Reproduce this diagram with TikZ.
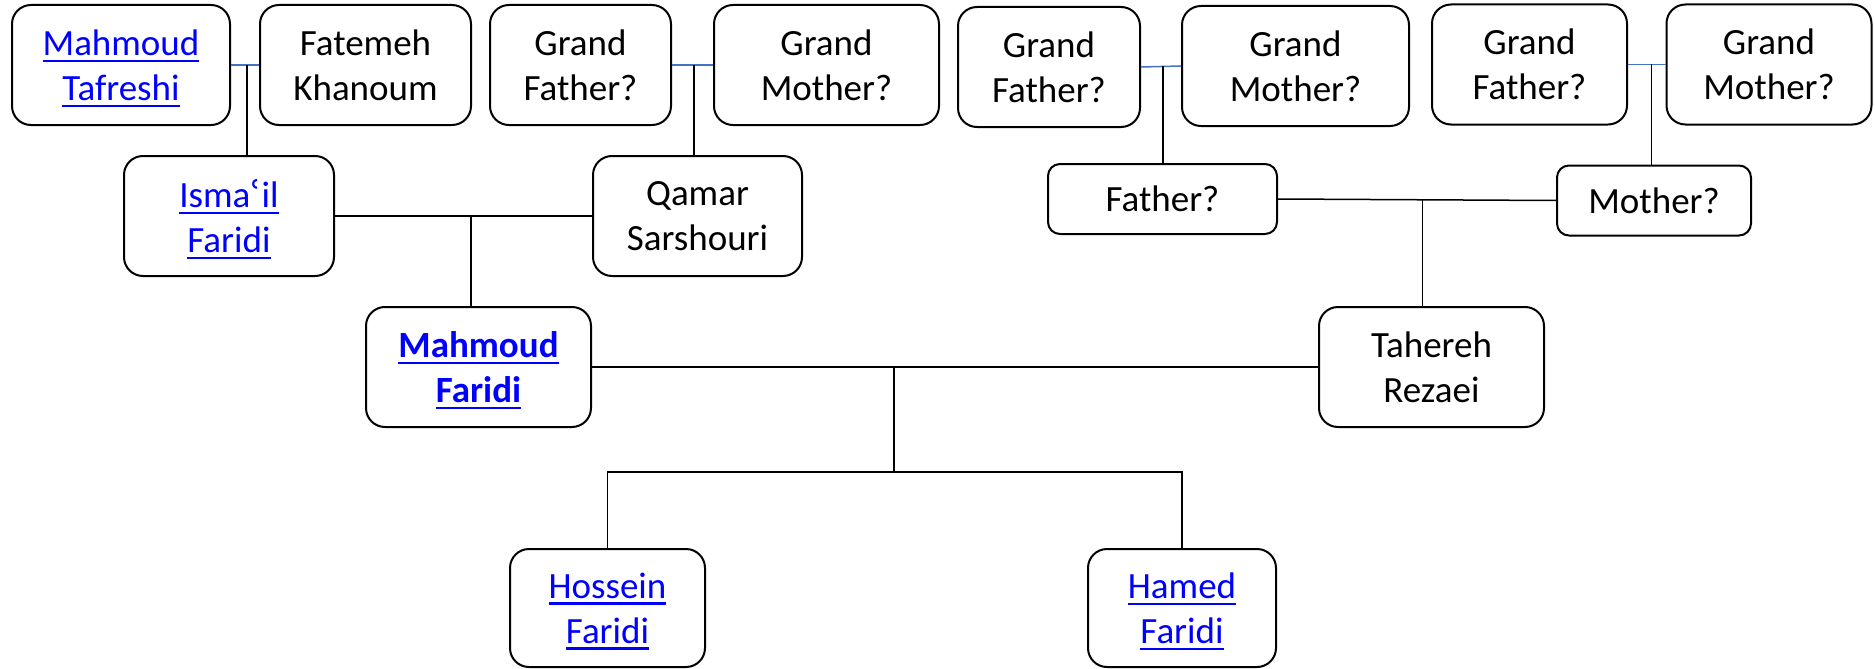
\documentclass[tikz,border=0pt]{standalone}
\usepackage{fontspec}
\setmainfont{Carlito}
\newfontfamily\dejavu{DejaVu Sans}
\usepackage[HTML]{xcolor}
\usepackage{tikz}
\usetikzlibrary{calc}

\definecolor{linkblue}{HTML}{0000FF}
\definecolor{spouseblue}{HTML}{4472C4}
\newsavebox{\lnkbox}
\newcommand{\lnk}[1]{\textcolor{linkblue}{\sbox{\lnkbox}{#1}%
  \rlap{\smash{\rule[-7pt]{\wd\lnkbox}{2.6pt}}}\usebox{\lnkbox}}}

\tikzset{
  person/.style={draw, line width=2pt, rounded corners=19pt, minimum height=120pt,
    align=center, inner sep=0pt, font=\fontsize{37}{45}\selectfont},
  smallperson/.style={person, rounded corners=12pt, minimum height=70pt},
  couple/.style={spouseblue, line width=1.5pt},
  kin/.style={black, line width=1.5pt},
}

\begin{document}
\begin{tikzpicture}[x=1pt, y=-1pt]
\useasboundingbox (0,0) rectangle (1875,669);

% --- Top row: grandparents ---
\node[person, minimum width=218pt] (tafreshi) at (121,65) {\lnk{Mahmoud}\\\lnk{Tafreshi}};
\node[person, minimum width=211pt] (fatemeh) at (365.5,65) {Fatemeh\\Khanoum};
\node[person, minimum width=181pt] (gfA) at (580.5,65) {Grand\\Father?};
\node[person, minimum width=225pt] (gmA) at (826.5,65) {Grand\\Mother?};
\node[person, minimum width=182pt] (gfB) at (1049,67) {Grand\\Father?};
\node[person, minimum width=227pt] (gmB) at (1295.5,66) {Grand\\Mother?};
\node[person, minimum width=195pt] (gfC) at (1529.5,64.5) {Grand\\Father?};
\node[person, minimum width=205pt] (gmC) at (1769,64.5) {Grand\\Mother?};

% --- Parents ---
\node[person, minimum width=210pt] (ismail) at (229,216) {\lnk{Isma{\dejavu ʿ}il}\\\lnk{Faridi}};
\node[person, minimum width=209pt] (qamar) at (697.5,216) {Qamar\\Sarshouri};
\node[smallperson, minimum width=229pt] (father) at (1162.5,199) {Father?};
\node[smallperson, minimum width=194pt] (mother) at (1654,200.5) {Mother?};

% --- Couple ---
\node[person, minimum width=225pt] (mahmoud) at (478.5,367) {\lnk{\textbf{Mahmoud}}\\\lnk{\textbf{Faridi}}};
\node[person, minimum width=225pt] (tahereh) at (1431.5,367) {Tahereh\\Rezaei};

% --- Children ---
\node[person, minimum width=195pt, minimum height=118pt] (hossein) at (607.5,608) {\lnk{Hossein}\\\lnk{Faridi}};
\node[person, minimum width=188pt, minimum height=118pt] (hamed) at (1182,608) {\lnk{Hamed}\\\lnk{Faridi}};

% Marriage lines of the grandparents
\draw[couple] (tafreshi.east) -- (fatemeh.west);
\draw[couple] (gfA.east) -- (gmA.west);
\draw[couple] (gfB.east) -- (gmB.west);
\draw[couple] (gfC.east) -- (gmC.west);

% Descent from the grandparents
\coordinate (jA) at ($(tafreshi.east)!0.57!(fatemeh.west)$);
\coordinate (jB) at ($(gfA.east)!0.54!(gmA.west)$);
\coordinate (jC) at ($(gfB.east)!0.55!(gmB.west)$);
\coordinate (jD) at ($(gfC.east)!0.62!(gmC.west)$);
\draw[kin] (jA) -- (jA |- ismail.north);
\draw[kin] (jB) -- (jB |- qamar.north);
\draw[kin] (jC) -- (jC |- father.north);
\draw[kin] (jD) -- (jD |- mother.north);

% Parents to Mahmoud and Tahereh
\draw[kin] (ismail.east) -- (qamar.west);
\coordinate (jE) at ($(ismail.east)!0.53!(qamar.west)$);
\draw[kin] (jE) -- (jE |- mahmoud.north);
\draw[kin] (father.east) -- (mother.west);
\coordinate (jF) at ($(father.east)!0.52!(mother.west)$);
\draw[kin] (jF) -- (jF |- tahereh.north);

% Mahmoud and Tahereh to the children
\draw[kin] (mahmoud.east) -- (tahereh.west);
\coordinate (jG) at ($(mahmoud.east)!0.416!(tahereh.west)$);
\coordinate (jH) at ($(jG)+(0,105)$);
\draw[kin] (jG) -- (jH);
\draw[kin] (hossein.north) |- (jH) -| (hamed.north);
\end{tikzpicture}
\end{document}
